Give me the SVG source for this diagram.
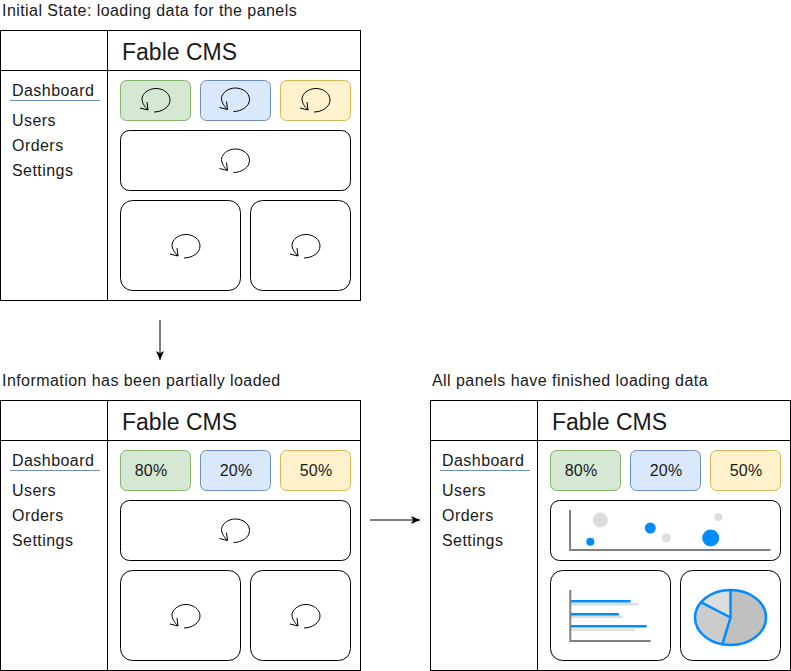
<svg xmlns="http://www.w3.org/2000/svg" width="791" height="671" viewBox="0 0 791 671">
<style>
text{font-family:"Liberation Sans",Arial,sans-serif;fill:#1a1a1a}
.cap{font-size:16px;letter-spacing:.44px}
.menu{font-size:16px;letter-spacing:.45px}
.title{font-size:23px}
.pct{font-size:16px;text-anchor:middle;letter-spacing:.2px}
.frame{fill:#fff;stroke:#000;stroke-width:1}
.ln{fill:none;stroke:#000;stroke-width:1}
.panel{fill:#fff;stroke:#000;stroke-width:1}
.g{fill:#d5e8d4;stroke:#82b366}
.b{fill:#dae8fc;stroke:#6c8ebf}
.y{fill:#fff2cc;stroke:#d6b656}
.ul{stroke:#6c8ebf;stroke-width:1}
.sp{fill:none;stroke:#000;stroke-width:1}
.axis{fill:none;stroke:#808080;stroke-width:2}
.blue{fill:#008cff}
.grey{fill:#ddd}
.bb{stroke:#008cff;stroke-width:2.4;fill:none}
.pie{stroke:#008cff;stroke-width:2.5;fill:none}
.gb{stroke:#ddd;stroke-width:2.5;fill:none}
</style>
<defs>
<marker id="arr" markerWidth="10" markerHeight="10" refX="9" refY="4.5" orient="auto" markerUnits="userSpaceOnUse"><path d="M0,0.5 L9,4.5 L0,8.5 L2.2,4.5 Z" fill="#000"/></marker>
<g id="spin" class="sp"><path d="M-2,12 C6,12 14,7 14,0 C14,-7 7,-11.5 0,-11.5 C-8,-11.5 -14,-6 -14,-1 C-14,3 -11,7 -8,10"/><path d="M-16,8 L-8,10 L-9,2"/></g>
<g id="shell">
<rect class="frame" x="0.5" y="30.5" width="360" height="270"/>
<path class="ln" d="M107.5,30.5V300.5M0.5,70.5H360.5"/>
<path class="ul" d="M10,100.5H100"/>
<text class="title" x="122" y="59.5">Fable CMS</text>
<text class="menu" x="12" y="96">Dashboard</text>
<text class="menu" x="12" y="126">Users</text>
<text class="menu" x="12" y="151">Orders</text>
<text class="menu" x="12" y="176">Settings</text>
<rect class="g" x="120.5" y="80.5" width="70" height="40" rx="6"/>
<rect class="b" x="200.5" y="80.5" width="70" height="40" rx="6"/>
<rect class="y" x="280.5" y="80.5" width="70" height="40" rx="6"/>
<rect class="panel" x="120.5" y="130.5" width="230" height="60" rx="9"/>
<rect class="panel" x="120.5" y="200.5" width="120" height="90" rx="12"/>
<rect class="panel" x="250.5" y="200.5" width="100" height="90" rx="12"/>
</g>
</defs>
<g id="connectors">
<path class="ln" d="M160,320V360" marker-end="url(#arr)"/>
<path class="ln" d="M370,520H420" marker-end="url(#arr)"/>
</g>
<g id="captions">
<text class="cap" x="2" y="16">Initial State: loading data for the panels</text>
<text class="cap" x="2" y="386">Information has been partially loaded</text>
<text class="cap" x="432" y="386">All panels have finished loading data</text>
</g>
<g id="state-initial">
<use href="#shell"/>
<use href="#spin" x="156" y="100"/>
<use href="#spin" x="235.5" y="99.5"/>
<use href="#spin" x="316" y="100"/>
<use href="#spin" x="235.5" y="160.5"/>
<use href="#spin" x="186" y="246"/>
<use href="#spin" x="306" y="246"/>
</g>
<g id="state-partial" transform="translate(0,370)">
<use href="#shell"/>
<text class="pct" x="151" y="106">80%</text>
<text class="pct" x="236" y="106">20%</text>
<text class="pct" x="316" y="106">50%</text>
<use href="#spin" x="235.5" y="160.5"/>
<use href="#spin" x="186" y="246"/>
<use href="#spin" x="306" y="246"/>
</g>
<g id="state-loaded" transform="translate(430,370)">
<use href="#shell"/>
<text class="pct" x="151" y="106">80%</text>
<text class="pct" x="236" y="106">20%</text>
<text class="pct" x="316" y="106">50%</text>
</g>
<g id="scatter-chart">
<circle class="grey" cx="600.3" cy="520" r="7.5"/>
<circle class="blue" cx="590.3" cy="541.7" r="4"/>
<circle class="blue" cx="650.3" cy="528" r="5.5"/>
<circle class="grey" cx="666.3" cy="537.7" r="4.5"/>
<circle class="blue" cx="710.7" cy="538" r="8.5"/>
<circle class="grey" cx="718.5" cy="517" r="4"/>
<path class="axis" d="M570,510V550H770.5"/>
</g>
<g id="bar-chart">
<path class="gb" d="M571,604.2H638.7M571,616.7H622.7M571,629.7H634.7"/>
<path class="bb" d="M571,601.3H630.7M571,614.3H619M571,626.3H646.7"/>
<path class="axis" d="M570.3,590V641H650.7"/>
</g>
<g id="pie-chart">
<ellipse cx="730.5" cy="617.5" rx="35.5" ry="27.5" fill="#c0c0c0"/>
<path d="M730.5,617.5L722.3,644.3A35.5,27.5 0 0 1 701.7,602.7Z" fill="#ccc"/>
<path d="M730.5,617.5L701.7,602.7A35.5,27.5 0 0 1 730.5,590Z" fill="#ddd"/>
<ellipse class="pie" cx="730.5" cy="617.5" rx="35.5" ry="27.5"/>
<path class="pie" d="M730.5,590V617.5L722.3,644.3M730.5,617.5L701.7,602.7"/>
</g>
</svg>
